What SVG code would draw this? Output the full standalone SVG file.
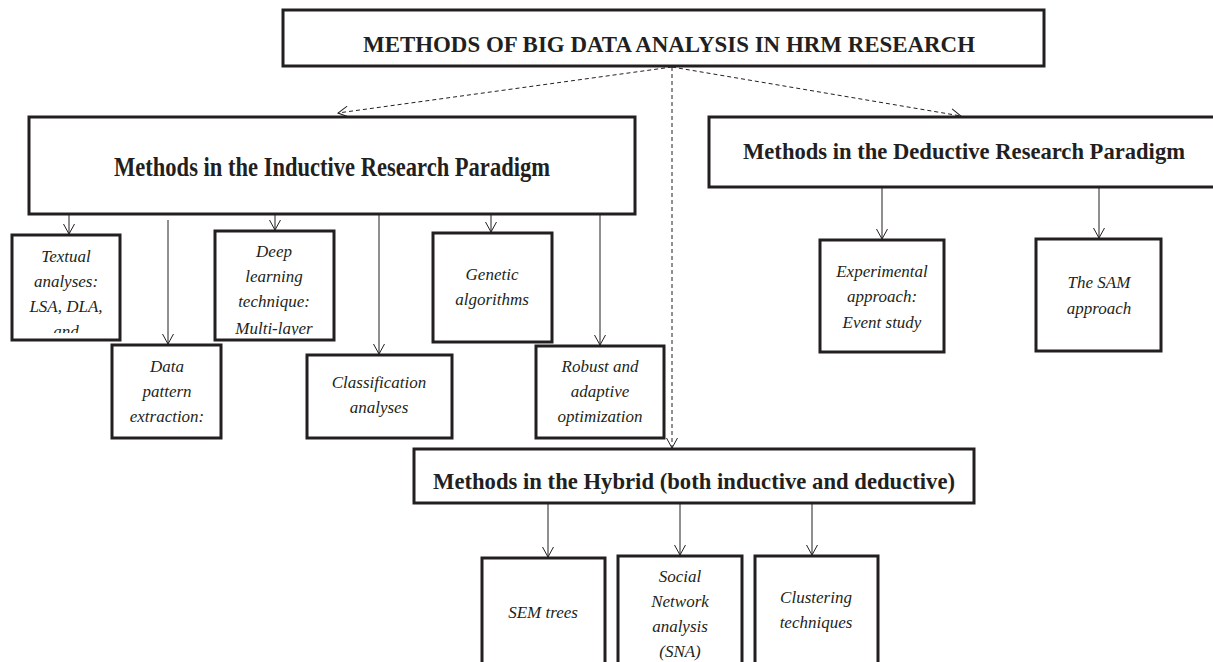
<svg xmlns="http://www.w3.org/2000/svg" width="1213" height="662" viewBox="0 0 1213 662">
<style>
.box{fill:#fff;stroke:#231f20;stroke-width:3}
.hd{font-family:'Liberation Serif','Times New Roman',serif;font-weight:bold;fill:#231f20;text-anchor:middle}
.it{font-family:'Liberation Serif','Times New Roman',serif;font-style:italic;font-size:17px;fill:#231f20;text-anchor:middle}
.ln{fill:none;stroke:#231f20;stroke-width:1}
.dash{fill:none;stroke:#231f20;stroke-width:1;stroke-dasharray:4 3}
</style>
<defs>
<marker id="arr" viewBox="0 0 12 12" refX="11" refY="6" markerWidth="12" markerHeight="12" markerUnits="userSpaceOnUse" orient="auto">
<path d="M1,0.5 L11,6 L1,11.5" fill="none" stroke="#231f20" stroke-width="1"/>
</marker>
<clipPath id="clipText"><rect x="12" y="235" width="108" height="98"/></clipPath>
<clipPath id="clipDeep"><rect x="215" y="231" width="119" height="104"/></clipPath>
</defs>

<g id="connectors">
<path class="dash" d="M672,67 L338,113" marker-end="url(#arr)"/>
<path class="dash" d="M672,67 L961,116" marker-end="url(#arr)"/>
<path class="dash" d="M672,67 L672,448" marker-end="url(#arr)"/>
<path class="ln" d="M69,214 L69,234" marker-end="url(#arr)"/>
<path class="ln" d="M168,220 L168,344" marker-end="url(#arr)"/>
<path class="ln" d="M275,214 L275,230" marker-end="url(#arr)"/>
<path class="ln" d="M379,214 L379,354" marker-end="url(#arr)"/>
<path class="ln" d="M491,214 L491,232" marker-end="url(#arr)"/>
<path class="ln" d="M600,214 L600,345" marker-end="url(#arr)"/>
<path class="ln" d="M882,188 L882,239" marker-end="url(#arr)"/>
<path class="ln" d="M1099,188 L1099,238" marker-end="url(#arr)"/>
<path class="ln" d="M548,504 L548,557" marker-end="url(#arr)"/>
<path class="ln" d="M680,504 L680,555" marker-end="url(#arr)"/>
<path class="ln" d="M812,504 L812,555" marker-end="url(#arr)"/>
</g>

<g id="top">
<rect class="box" x="283" y="10" width="761" height="56"/>
<text class="hd" x="669" y="52" font-size="24" textLength="612" lengthAdjust="spacingAndGlyphs">METHODS OF BIG DATA ANALYSIS IN HRM RESEARCH</text>
</g>

<g id="inductive">
<rect class="box" x="29" y="117" width="606" height="97"/>
<text class="hd" x="332" y="176" font-size="28" textLength="436" lengthAdjust="spacingAndGlyphs">Methods in the Inductive Research Paradigm</text>
</g>

<g id="deductive">
<rect class="box" x="709" y="117" width="510" height="70"/>
<text class="hd" x="964" y="159" font-size="23" textLength="442" lengthAdjust="spacingAndGlyphs">Methods in the Deductive Research Paradigm</text>
</g>

<g id="hybrid">
<rect class="box" x="414" y="449" width="560" height="54"/>
<text class="hd" x="694" y="489" font-size="23" textLength="522" lengthAdjust="spacingAndGlyphs">Methods in the Hybrid (both inductive and deductive)</text>
</g>

<g id="textual">
<rect class="box" x="12" y="235" width="108" height="105"/>
<g clip-path="url(#clipText)">
<text class="it" x="66" y="262">Textual</text>
<text class="it" x="66" y="287">analyses:</text>
<text class="it" x="66" y="312">LSA, DLA,</text>
<text class="it" x="66" y="337">and</text>
</g>
</g>

<g id="datapattern">
<rect class="box" x="112" y="345" width="109" height="93"/>
<text class="it" x="167" y="372">Data</text>
<text class="it" x="167" y="397">pattern</text>
<text class="it" x="167" y="422">extraction:</text>
</g>

<g id="deeplearning">
<rect class="box" x="215" y="231" width="119" height="109"/>
<g clip-path="url(#clipDeep)">
<text class="it" x="274" y="257">Deep</text>
<text class="it" x="274" y="282">learning</text>
<text class="it" x="274" y="307">technique:</text>
<text class="it" x="274" y="334">Multi-layer</text>
</g>
</g>

<g id="classification">
<rect class="box" x="307" y="355" width="145" height="83"/>
<text class="it" x="379" y="388">Classification</text>
<text class="it" x="379" y="413">analyses</text>
</g>

<g id="genetic">
<rect class="box" x="433" y="233" width="119" height="109"/>
<text class="it" x="492" y="280">Genetic</text>
<text class="it" x="492" y="305">algorithms</text>
</g>

<g id="robust">
<rect class="box" x="536" y="346" width="128" height="92"/>
<text class="it" x="600" y="372">Robust and</text>
<text class="it" x="600" y="397">adaptive</text>
<text class="it" x="600" y="422">optimization</text>
</g>

<g id="experimental">
<rect class="box" x="820" y="240" width="124" height="112"/>
<text class="it" x="882" y="277">Experimental</text>
<text class="it" x="882" y="302">approach:</text>
<text class="it" x="882" y="328">Event study</text>
</g>

<g id="sam">
<rect class="box" x="1036" y="239" width="125" height="112"/>
<text class="it" x="1099" y="288">The SAM</text>
<text class="it" x="1099" y="314">approach</text>
</g>

<g id="semtrees">
<rect class="box" x="482" y="558" width="123" height="150"/>
<text class="it" x="543" y="618">SEM trees</text>
</g>

<g id="sna">
<rect class="box" x="618" y="556" width="124" height="150"/>
<text class="it" x="680" y="582">Social</text>
<text class="it" x="680" y="607">Network</text>
<text class="it" x="680" y="632">analysis</text>
<text class="it" x="680" y="657">(SNA)</text>
</g>

<g id="clustering">
<rect class="box" x="755" y="556" width="123" height="150"/>
<text class="it" x="816" y="603">Clustering</text>
<text class="it" x="816" y="628">techniques</text>
</g>
</svg>
